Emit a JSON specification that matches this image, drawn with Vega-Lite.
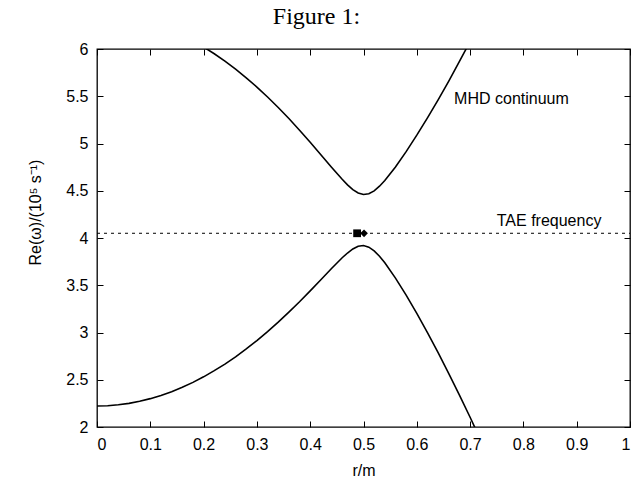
{
  "$schema": "https://vega.github.io/schema/vega-lite/v6.json",
  "width": 533,
  "height": 378,
  "autosize": {"type": "none"},
  "padding": {"left": 97, "top": 49, "right": 2, "bottom": 61},
  "background": "white",
  "title": {"text": "Figure 1:", "font": "Liberation Serif", "fontSize": 24, "fontWeight": "normal", "color": "black", "anchor": "middle", "dx": -47, "offset": 12},
  "config": {
    "view": {"stroke": "black", "strokeWidth": 1.3},
    "axis": {"grid": true, "gridColor": "black", "gridOpacity": 1, "gridWidth": 1, "ticks": false, "domain": false, "labelFont": "Liberation Sans", "labelFontSize": 16, "labelColor": "black", "titleFont": "Liberation Sans", "titleFontSize": 16, "titleFontWeight": "normal", "titleColor": "black"}
  },
  "datasets": {
    "curves": [
      {"r": 0.00, "w": 2.222, "branch": "lower"}, {"r": 0.02, "w": 2.225, "branch": "lower"}, {"r": 0.04, "w": 2.235, "branch": "lower"},
      {"r": 0.06, "w": 2.250, "branch": "lower"}, {"r": 0.08, "w": 2.272, "branch": "lower"}, {"r": 0.10, "w": 2.300, "branch": "lower"},
      {"r": 0.12, "w": 2.334, "branch": "lower"}, {"r": 0.14, "w": 2.374, "branch": "lower"}, {"r": 0.16, "w": 2.420, "branch": "lower"},
      {"r": 0.18, "w": 2.472, "branch": "lower"}, {"r": 0.20, "w": 2.531, "branch": "lower"}, {"r": 0.22, "w": 2.596, "branch": "lower"},
      {"r": 0.24, "w": 2.666, "branch": "lower"}, {"r": 0.26, "w": 2.743, "branch": "lower"}, {"r": 0.28, "w": 2.826, "branch": "lower"},
      {"r": 0.30, "w": 2.915, "branch": "lower"}, {"r": 0.32, "w": 3.009, "branch": "lower"}, {"r": 0.34, "w": 3.109, "branch": "lower"},
      {"r": 0.36, "w": 3.215, "branch": "lower"}, {"r": 0.38, "w": 3.325, "branch": "lower"}, {"r": 0.40, "w": 3.440, "branch": "lower"},
      {"r": 0.42, "w": 3.558, "branch": "lower"}, {"r": 0.44, "w": 3.677, "branch": "lower"}, {"r": 0.46, "w": 3.791, "branch": "lower"},
      {"r": 0.47, "w": 3.841, "branch": "lower"}, {"r": 0.48, "w": 3.884, "branch": "lower"}, {"r": 0.49, "w": 3.912, "branch": "lower"},
      {"r": 0.50, "w": 3.920, "branch": "lower"}, {"r": 0.51, "w": 3.903, "branch": "lower"}, {"r": 0.52, "w": 3.864, "branch": "lower"},
      {"r": 0.53, "w": 3.807, "branch": "lower"}, {"r": 0.54, "w": 3.738, "branch": "lower"}, {"r": 0.56, "w": 3.576, "branch": "lower"},
      {"r": 0.58, "w": 3.396, "branch": "lower"}, {"r": 0.60, "w": 3.202, "branch": "lower"}, {"r": 0.62, "w": 2.999, "branch": "lower"},
      {"r": 0.64, "w": 2.787, "branch": "lower"}, {"r": 0.66, "w": 2.566, "branch": "lower"}, {"r": 0.68, "w": 2.338, "branch": "lower"},
      {"r": 0.70, "w": 2.103, "branch": "lower"}, {"r": 0.72, "w": 1.860, "branch": "lower"},
      {"r": 0.18, "w": 6.086, "branch": "upper"}, {"r": 0.20, "w": 6.021, "branch": "upper"}, {"r": 0.22, "w": 5.950, "branch": "upper"},
      {"r": 0.24, "w": 5.871, "branch": "upper"}, {"r": 0.26, "w": 5.786, "branch": "upper"}, {"r": 0.28, "w": 5.695, "branch": "upper"},
      {"r": 0.30, "w": 5.597, "branch": "upper"}, {"r": 0.32, "w": 5.492, "branch": "upper"}, {"r": 0.34, "w": 5.381, "branch": "upper"},
      {"r": 0.36, "w": 5.264, "branch": "upper"}, {"r": 0.38, "w": 5.141, "branch": "upper"}, {"r": 0.40, "w": 5.014, "branch": "upper"},
      {"r": 0.42, "w": 4.882, "branch": "upper"}, {"r": 0.44, "w": 4.749, "branch": "upper"}, {"r": 0.46, "w": 4.621, "branch": "upper"},
      {"r": 0.47, "w": 4.562, "branch": "upper"}, {"r": 0.48, "w": 4.512, "branch": "upper"}, {"r": 0.49, "w": 4.476, "branch": "upper"},
      {"r": 0.50, "w": 4.460, "branch": "upper"}, {"r": 0.51, "w": 4.468, "branch": "upper"}, {"r": 0.52, "w": 4.499, "branch": "upper"},
      {"r": 0.53, "w": 4.548, "branch": "upper"}, {"r": 0.54, "w": 4.608, "branch": "upper"}, {"r": 0.56, "w": 4.752, "branch": "upper"},
      {"r": 0.58, "w": 4.914, "branch": "upper"}, {"r": 0.60, "w": 5.088, "branch": "upper"}, {"r": 0.62, "w": 5.271, "branch": "upper"},
      {"r": 0.64, "w": 5.462, "branch": "upper"}, {"r": 0.66, "w": 5.661, "branch": "upper"}, {"r": 0.68, "w": 5.868, "branch": "upper"},
      {"r": 0.70, "w": 6.080, "branch": "upper"}
    ],
    "tae": [{"r": 0.0, "w": 4.05}, {"r": 1.0, "w": 4.05}],
    "markers": [{"r": 0.488, "w": 4.05, "kind": "square"}, {"r": 0.501, "w": 4.05, "kind": "diamond"}],
    "labels": [{"r": 0.67, "w": 5.415, "label": "MHD continuum"}, {"r": 0.75, "w": 4.127, "label": "TAE frequency"}]
  },
  "layer": [
    {
      "data": {"name": "curves"},
      "mark": {"type": "line", "color": "black", "strokeWidth": 1.6, "clip": true},
      "encoding": {
        "x": {"field": "r", "type": "quantitative", "scale": {"domain": [0, 1], "nice": false, "zero": false},
              "axis": {"orient": "bottom", "values": [0, 0.05, 0.1, 0.15, 0.2, 0.25, 0.3, 0.35, 0.4, 0.45, 0.5, 0.55, 0.6, 0.65, 0.7, 0.75, 0.8, 0.85, 0.9, 0.95, 1],
                       "labelExpr": "abs(datum.value * 10 - round(datum.value * 10)) < 0.01 ? format(datum.value, '~g') : ''",
                       "gridDash": {"condition": {"test": "abs(datum.value * 10 - round(datum.value * 10)) < 0.01", "value": [6, 366, 6]}, "value": [3, 372, 3]},
                       "labelPadding": 9, "title": "r/m", "titlePadding": 10}},
        "y": {"field": "w", "type": "quantitative", "scale": {"domain": [2, 6], "nice": false, "zero": false},
              "axis": {"orient": "left", "values": [2, 2.25, 2.5, 2.75, 3, 3.25, 3.5, 3.75, 4, 4.25, 4.5, 4.75, 5, 5.25, 5.5, 5.75, 6],
                       "labelExpr": "abs(datum.value * 2 - round(datum.value * 2)) < 0.01 ? format(datum.value, '~g') : ''",
                       "gridDash": {"condition": {"test": "abs(datum.value * 2 - round(datum.value * 2)) < 0.01", "value": [6, 521, 6]}, "value": [3, 527, 3]},
                       "labelPadding": 9, "title": "Re(ω)/(10⁵ s⁻¹)", "titlePadding": 22, "titleY": 163}},
        "detail": {"field": "branch", "type": "nominal"}
      }
    },
    {
      "data": {"name": "tae"},
      "mark": {"type": "line", "color": "black", "strokeWidth": 1, "strokeDash": [3, 4]},
      "encoding": {
        "x": {"field": "r", "type": "quantitative"},
        "y": {"field": "w", "type": "quantitative"}
      }
    },
    {
      "data": {"name": "markers"},
      "mark": {"type": "point", "filled": true, "color": "black", "opacity": 1, "size": 60},
      "encoding": {
        "x": {"field": "r", "type": "quantitative"},
        "y": {"field": "w", "type": "quantitative"},
        "shape": {"field": "kind", "type": "nominal", "scale": {"domain": ["square", "diamond"], "range": ["square", "diamond"]}, "legend": null}
      }
    },
    {
      "data": {"name": "labels"},
      "mark": {"type": "text", "align": "left", "baseline": "alphabetic", "font": "Liberation Sans", "fontSize": 16, "color": "black"},
      "encoding": {
        "x": {"field": "r", "type": "quantitative"},
        "y": {"field": "w", "type": "quantitative"},
        "text": {"field": "label"}
      }
    }
  ]
}
